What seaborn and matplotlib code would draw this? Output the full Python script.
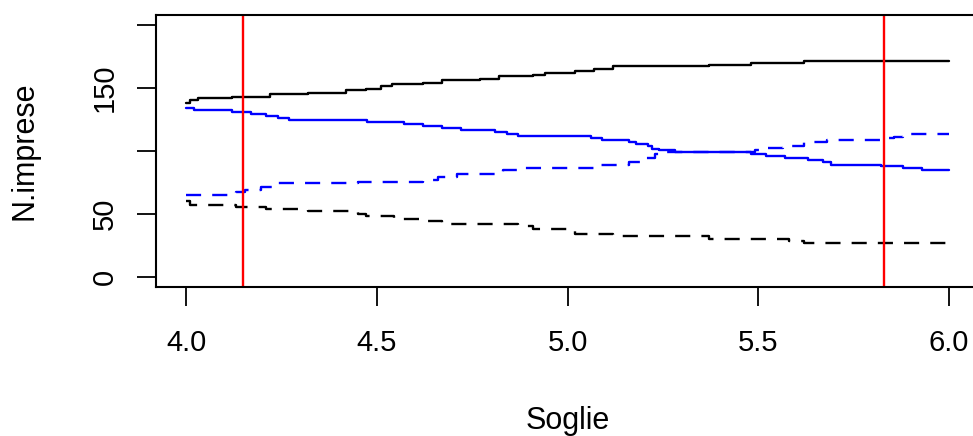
import matplotlib
matplotlib.use("Agg")
import matplotlib.pyplot as plt
import seaborn as sns
import pandas as pd

# ---- data ----
x_black_solid = [4.00, 4.01, 4.03, 4.12, 4.22, 4.32, 4.42, 4.47, 4.51, 4.54, 4.62, 4.67,
                 4.77, 4.82, 4.91, 4.94, 5.02, 5.07, 5.12, 5.37, 5.48, 5.62, 6.00]
y_black_solid = [138, 140, 142, 143, 145, 146, 148, 149, 151, 153, 154, 156,
                 157, 159, 160, 162, 163, 165, 167, 168, 170, 171, 171]

x_black_dash = [4.00, 4.01, 4.13, 4.21, 4.32, 4.45, 4.47, 4.545, 4.62, 4.67, 4.87, 4.91,
                5.00, 5.02, 5.12, 5.37, 5.58, 5.62, 6.00]
y_black_dash = [60, 57, 55, 53.5, 52, 50, 48.5, 46, 44, 42, 40.5, 38,
                36.5, 34, 32, 30, 28.5, 26.5, 26.5]

x_blue_solid = [4.00, 4.02, 4.12, 4.17, 4.21, 4.24, 4.27, 4.475, 4.57, 4.62, 4.67, 4.72,
                4.81, 4.84, 4.87, 5.06, 5.09, 5.16, 5.18, 5.21, 5.22, 5.24, 5.28, 5.48,
                5.52, 5.57, 5.63, 5.67, 5.69, 5.82, 5.88, 5.93, 6.00]
y_blue_solid = [134, 132, 130.5, 129, 127.5, 126, 124.5, 123, 121.5, 119.5, 118, 116.5,
                114.5, 113, 111.5, 110, 108.5, 107, 105, 103.5, 101.5, 100.5, 99, 97.5,
                96, 94.5, 92.5, 91, 89, 88, 86.5, 85, 85]

x_blue_dash = [4.00, 4.13, 4.155, 4.195, 4.24, 4.45, 4.62, 4.66, 4.71, 4.83, 4.87, 5.075,
               5.16, 5.20, 5.23, 5.26, 5.49, 5.52, 5.565, 5.62, 5.68, 5.82, 5.855, 5.88, 6.00]
y_blue_dash = [64.5, 67, 69, 71, 74, 75.5, 77, 79, 81.5, 84.5, 86.5, 89,
               91, 94, 97, 99, 100.5, 102, 104, 107, 108.5, 110, 111, 113, 113]

thresholds = [4.15, 5.83]

x_ticks = [4.0, 4.5, 5.0, 5.5, 6.0]
x_tick_labels = ["4.0", "4.5", "5.0", "5.5", "6.0"]
y_ticks = [0, 50, 100, 150, 200]
y_tick_labels = ["0", "50", "", "150", ""]

x_label = "Soglie"
y_label = "N.imprese"

# ---- style ----
sns.set_style("ticks")
plt.rcParams["font.family"] = ["Liberation Sans", "DejaVu Sans"]

fig = plt.figure(figsize=(9.73, 4.36), dpi=100)
W, H = 973, 436
left, right, top, bottom = 155.7, 979.7, 14.7, 286.7
ax = fig.add_axes([left / W, 1 - bottom / H, (right - left) / W, (bottom - top) / H])

lw = 1.7
dash = (0, (6.4, 4.7))

series = [
    (x_black_solid, y_black_solid, "black", "-"),
    (x_black_dash, y_black_dash, "black", dash),
    (x_blue_solid, y_blue_solid, "#0000FF", "-"),
    (x_blue_dash, y_blue_dash, "#0000FF", dash),
]
for xs, ys, col, ls in series:
    df = pd.DataFrame({"x": xs, "y": ys})
    sns.lineplot(data=df, x="x", y="y", ax=ax, color=col, linewidth=lw,
                 linestyle=ls, drawstyle="steps-post", estimator=None, sort=True)

for t in thresholds:
    ax.axvline(t, color="#FF0000", linewidth=lw)

ax.set_xlim(3.92, 6.08)
ax.set_ylim(-8, 208)
ax.set_xticks(x_ticks)
ax.set_xticklabels(x_tick_labels)
ax.set_yticks(y_ticks)
ax.set_yticklabels(y_tick_labels)

for s in ax.spines.values():
    s.set_visible(True)
    s.set_color("black")
    s.set_linewidth(1.5)

ax.tick_params(axis="both", direction="out", length=13.5, width=1.3, colors="black",
               labelsize=21, labelcolor="black")
ax.tick_params(axis="x", pad=17)
ax.tick_params(axis="y", pad=13, labelrotation=90)
for lab in ax.get_yticklabels():
    lab.set_verticalalignment("center")

ax.set_xlabel(x_label, fontsize=22, color="black")
ax.set_ylabel(y_label, fontsize=22, color="black")
ax.xaxis.set_label_coords(0.5, -0.495)
ax.xaxis.label.set_verticalalignment("center")
ax.yaxis.set_label_coords(-0.159, 0.5)
ax.yaxis.label.set_verticalalignment("center")

fig.savefig("out.png", dpi=100)
